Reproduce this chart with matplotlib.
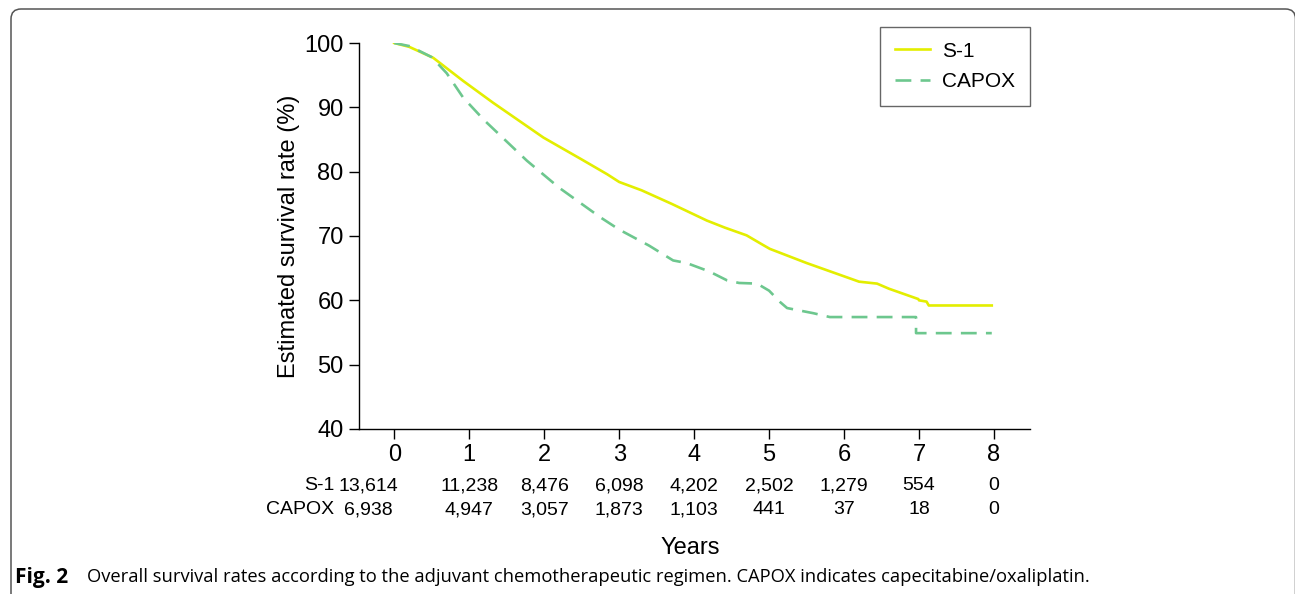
import matplotlib.pyplot as plt
import matplotlib.patches as mpatches
import matplotlib.transforms as mtransforms

plt.rcParams['font.family'] = ['Liberation Sans', 'DejaVu Sans']

# survival curves (years, %)
s1_t = [0, 0.2, 0.52, 0.92, 1.32, 1.99, 2.5, 2.84, 3.0, 3.3, 3.7, 4.17, 4.41, 4.7,
        4.92, 5.01, 5.5, 6.08, 6.2, 6.44, 6.6, 6.99, 7.0, 7.1, 7.13, 7.97]
s1_s = [100, 99.4, 97.7, 94.1, 90.7, 85.3, 81.9, 79.6, 78.4, 77.1, 75.0, 72.4, 71.3, 70.1,
        68.6, 68.0, 65.8, 63.4, 62.9, 62.6, 61.8, 60.2, 60.0, 59.8, 59.2, 59.2]

capox_t = [0, 0.21, 0.5, 0.7, 0.92, 1.2, 1.39, 1.77, 2.2, 2.75, 3.0, 3.4, 3.72, 3.9,
           4.2, 4.44, 4.6, 4.84, 5.0, 5.15, 5.24, 5.59, 5.81, 6.96, 6.96, 7.97]
capox_s = [100, 99.5, 97.8, 95.3, 91.5, 88.0, 85.9, 81.7, 77.5, 72.9, 71.0, 68.5, 66.2, 65.8,
           64.5, 63.1, 62.7, 62.6, 61.5, 59.7, 58.8, 58.0, 57.4, 57.4, 54.9, 54.9]

years = [0, 1, 2, 3, 4, 5, 6, 7, 8]
s1_risk = ['13,614', '11,238', '8,476', '6,098', '4,202', '2,502', '1,279', '554', '0']
capox_risk = ['6,938', '4,947', '3,057', '1,873', '1,103', '441', '37', '18', '0']

yellow = '#e3ee00'
green = '#6dc78e'

W, H = 1295, 594
fig = plt.figure(figsize=(W / 100, H / 100), dpi=100)
ax = fig.add_axes([359 / W, 1 - 429 / H, (1030 - 359) / W, (429 - 43) / H])

ax.plot(s1_t, s1_s, color=yellow, lw=1.9, label='S-1')
ax.plot(capox_t, capox_s, color=green, lw=1.9, dashes=(6, 3.5), label='CAPOX')

ax.set_xlim(-0.47, 8.48)
ax.set_ylim(40, 100)
ax.set_xticks(years)
ax.set_yticks([40, 50, 60, 70, 80, 90, 100])
ax.tick_params(labelsize=17, length=7, width=1, direction='out', pad=4)
for side in ['top', 'right']:
    ax.spines[side].set_visible(False)
for side in ['left', 'bottom']:
    ax.spines[side].set_linewidth(1)
ax.set_ylabel('Estimated survival rate (%)', fontsize=17, labelpad=3)

# numbers at risk
trans = mtransforms.blended_transform_factory(ax.transData, ax.transAxes)
row1 = (429 - 486) / 386
row2 = (429 - 510) / 386
for i, yr in enumerate(years):
    xpos = yr if yr > 0 else -0.35
    ax.text(xpos, row1, s1_risk[i], transform=trans, ha='center', va='center', fontsize=14)
    ax.text(xpos, row2, capox_risk[i], transform=trans, ha='center', va='center', fontsize=14)
ax.text(-0.8, row1, 'S-1', transform=trans, ha='right', va='center', fontsize=14)
ax.text(-0.8, row2, 'CAPOX', transform=trans, ha='right', va='center', fontsize=14)

fig.text(690 / W, 1 - 548 / H, 'Years', ha='center', va='center', fontsize=17)

leg = ax.legend(loc='upper right', bbox_to_anchor=(1030 / W, 1 - 27 / H),
                bbox_transform=fig.transFigure, fontsize=15, frameon=True,
                fancybox=False, edgecolor='#666666', framealpha=1,
                handlelength=1.7, handletextpad=0.6, labelspacing=0.55,
                borderpad=0.7, borderaxespad=0)
leg.get_frame().set_linewidth(1)

# caption
fig.text(15 / W, 1 - 577 / H, 'Fig. 2', fontsize=15, fontweight='bold',
         family=['Open Sans', 'DejaVu Sans'], va='center', ha='left')
fig.text(87 / W, 1 - 577 / H,
         'Overall survival rates according to the adjuvant chemotherapeutic regimen. '
         'CAPOX indicates capecitabine/oxaliplatin.',
         fontsize=13.2, family=['Open Sans', 'DejaVu Sans'], va='center', ha='left')

# page frame with rounded corners
frame = mpatches.FancyBboxPatch((11, -40), 1284.5, H - 9 + 40,
                                boxstyle='round,pad=0,rounding_size=10',
                                transform=mtransforms.IdentityTransform(),
                                fill=False, ec='#555555', lw=1.1)
fig.add_artist(frame)

fig.savefig('out.png', dpi=100)
